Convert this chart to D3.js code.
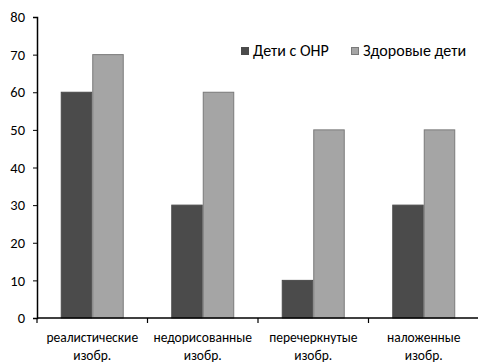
<!DOCTYPE html>
<html>
<head>
<meta charset="utf-8">
<script src="https://cdn.jsdelivr.net/npm/d3@7"></script>
<style>
  html, body { margin: 0; padding: 0; background: #fff; }
  svg { display: block; font-family: Carlito, "Open Sans", "Noto Sans", sans-serif; }
</style>
</head>
<body>
<svg id="chart" width="478" height="362"></svg>
<script>
// Categories of drawings and the share per group
const categories = [
  ["реалистические", "изобр."],
  ["недорисованные", "изобр."],
  ["перечеркнутые", "изобр."],
  ["наложенные", "изобр."]
];
const seriesNames = ["Дети с ОНР", "Здоровые дети"];
const onrValues = [60, 30, 10, 30];
const healthyValues = [70, 60, 50, 50];
const yTicks = [0, 10, 20, 30, 40, 50, 60, 70, 80];

const fills = ["#4b4b4b", "#a5a5a5"];
const strokes = ["#4b4b4b", "#7a7a7a"];

const svg = d3.select("#chart");
const plotLeft = 37, plotRight = 479, plotTop = 17, plotBottom = 318;

const x = d3.scaleBand()
  .domain(d3.range(categories.length))
  .range([plotLeft, plotRight])
  .paddingInner(0.43)
  .paddingOuter(0.215);
const xSub = d3.scaleBand()
  .domain([0, 1])
  .range([0, x.bandwidth()]);
const y = d3.scaleLinear().domain([0, 80]).range([plotBottom, plotTop]);

const series = [onrValues, healthyValues];

// Bars
series.forEach((vals, s) => {
  svg.append("g").selectAll("rect")
    .data(vals)
    .join("rect")
    .attr("x", (d, i) => x(i) + xSub(s) + 0.5)
    .attr("y", d => y(d))
    .attr("width", xSub.bandwidth() - 1)
    .attr("height", d => y(0) - y(d))
    .attr("fill", fills[s])
    .attr("stroke", strokes[s])
    .attr("stroke-width", 1);
});

// Y axis
const yAxis = d3.axisLeft(y).tickValues(yTicks).tickSize(4).tickPadding(8);
const gy = svg.append("g").attr("transform", `translate(${plotLeft},0)`).call(yAxis);
gy.select(".domain").attr("stroke", "#000").attr("stroke-width", 1.5);
gy.selectAll(".tick line").attr("stroke", "#000");
gy.selectAll(".tick text").attr("font-size", 14.5).attr("fill", "#000")
  .attr("font-family", "Carlito, 'Open Sans', sans-serif");

// X axis line with category boundary ticks
const xStep = x.step();
svg.append("line")
  .attr("x1", plotLeft).attr("x2", plotRight)
  .attr("y1", plotBottom).attr("y2", plotBottom)
  .attr("stroke", "#000").attr("stroke-width", 1.5);
d3.range(categories.length + 1).forEach(i => {
  const xx = plotLeft + i * xStep;
  svg.append("line")
    .attr("x1", xx).attr("x2", xx)
    .attr("y1", plotBottom).attr("y2", plotBottom + 5)
    .attr("stroke", "#000").attr("stroke-width", 1.2);
});

// Category labels, two lines each, as separate text rows
const labelRows = [plotBottom + 24, plotBottom + 41.5];
categories.forEach((lines, i) => {
  lines.forEach((ln, k) => {
    svg.append("text")
      .attr("x", x(i) + x.bandwidth() / 2)
      .attr("y", labelRows[k])
      .attr("text-anchor", "middle")
      .attr("font-size", 13.5)
      .attr("fill", "#000")
      .text(ln);
  });
});

// Legend
const legendItems = [{ x: 241 }, { x: 351 }];
legendItems.forEach((it, s) => {
  svg.append("rect")
    .attr("x", it.x + 0.5).attr("y", 47.5)
    .attr("width", 7).attr("height", 7)
    .attr("fill", fills[s]).attr("stroke", strokes[s]);
  svg.append("text")
    .attr("x", it.x + 12).attr("y", 55.5)
    .attr("font-size", 16)
    .attr("fill", "#000")
    .text(seriesNames[s]);
});
</script>
</body>
</html>
